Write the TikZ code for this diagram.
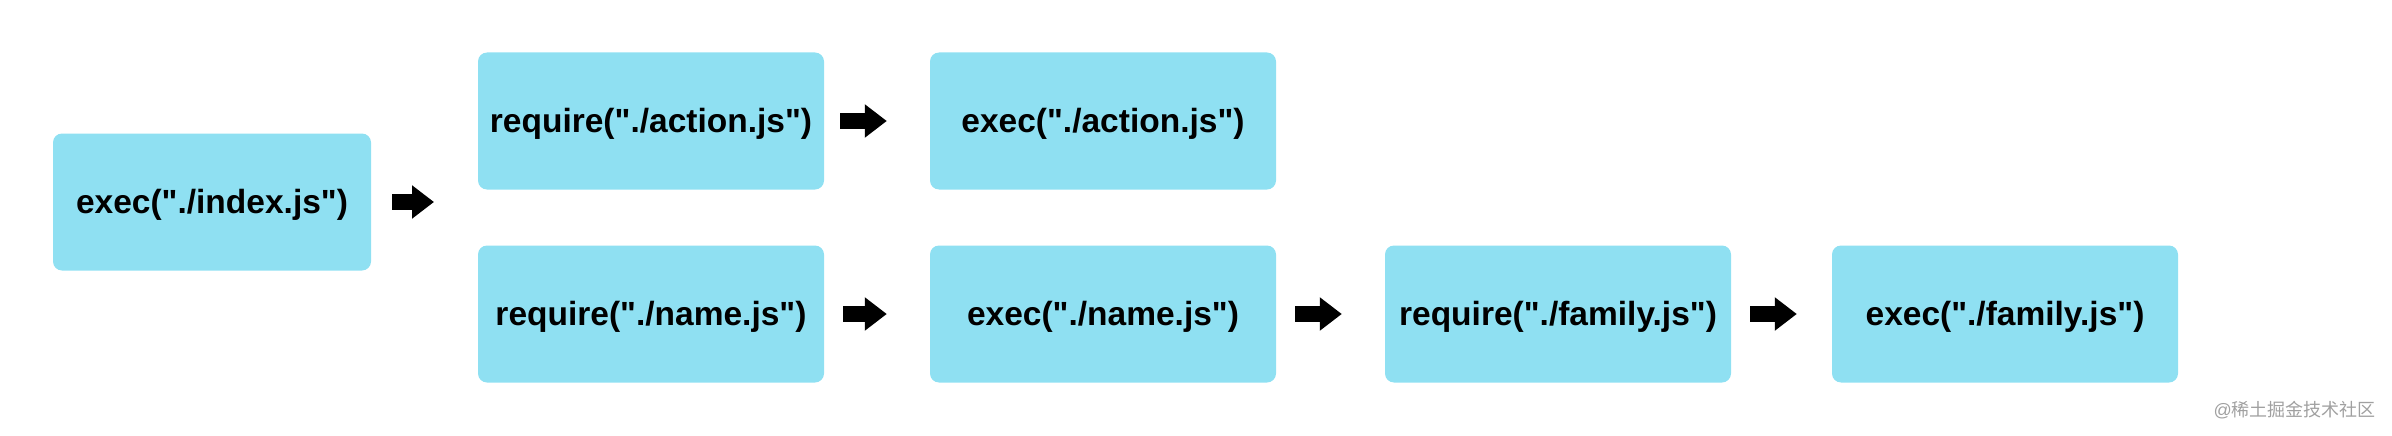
\documentclass[tikz,border=0pt]{standalone}
\usepackage{fontspec}
\setmainfont{Liberation Sans}
\newfontfamily\boxfont{Liberation Sans}
\newfontfamily\cjkfont{Noto Sans CJK SC}
\usetikzlibrary{arrows.meta}
\definecolor{boxfill}{HTML}{8FE0F2}
\definecolor{wmgray}{HTML}{A0A0A0}
\tikzset{
  stepbox/.style={rectangle, rounded corners=9pt, fill=boxfill, draw=none,
    minimum height=137pt, inner sep=0pt, text height=28pt, text depth=4.6pt,
    font=\boxfont\fontsize{33.5}{40}\selectfont\bfseries},
  blk/.style={line width=16pt, draw=black, -{Triangle[length=22pt,width=32pt]}},
}
\begin{document}
\begin{tikzpicture}[x=1pt,y=-1pt]
\useasboundingbox (0,0) rectangle (2392,436);
\node[stepbox, minimum width=318pt] (idx) at (212,202) {exec("./index.js")};
\node[stepbox, minimum width=346pt] (reqa) at (651,121) {require("./action.js")};
\node[stepbox, minimum width=346pt] (reqn) at (651,314) {require("./name.js")};
\node[stepbox, minimum width=346pt] (exa) at (1103,121) {exec("./action.js")};
\node[stepbox, minimum width=346pt] (exn) at (1103,314) {exec("./name.js")};
\node[stepbox, minimum width=346pt] (reqf) at (1558,314) {require("./family.js")};
\node[stepbox, minimum width=346pt] (exf) at (2005,314) {exec("./family.js")};
\coordinate (fork) at (434,202);
\draw[blk, shorten <=21pt] (idx.east) -- (fork);
\draw[blk, shorten <=16pt, shorten >=43pt] (reqa) -- (exa);
\draw[blk, shorten <=19pt, shorten >=43pt] (reqn) -- (exn);
\draw[blk, shorten <=19pt, shorten >=43pt] (exn) -- (reqf);
\draw[blk, shorten <=19pt, shorten >=35pt] (reqf) -- (exf);
\node[anchor=east, text=wmgray, inner sep=0pt, font=\fontsize{18}{20}\selectfont] (wm) at (2376,410) {@\cjkfont 稀土掘金技术社区};
\end{tikzpicture}
\end{document}
